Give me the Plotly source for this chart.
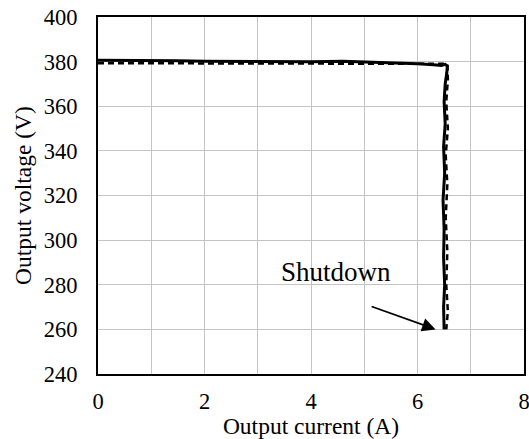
import plotly.graph_objects as go

# Measured output characteristic (solid) and simulated/reference curve (dashed)
current_meas = [0.0, 0.5, 1.0, 1.5, 2.0, 2.5, 3.0, 3.5, 4.0, 4.6, 5.0, 5.5, 6.0, 6.3, 6.45, 6.52,
                6.56, 6.55, 6.52, 6.50, 6.52, 6.49, 6.51, 6.48, 6.50, 6.49, 6.51, 6.49, 6.50, 6.50]
voltage_meas = [380.6, 380.6, 380.5, 380.4, 380.2, 380.1, 380.0, 380.0, 380.0, 380.2, 379.9, 379.6,
                379.0, 378.6, 378.3, 378.8, 378.0, 375.0, 370.0, 362.0, 352.0, 342.0, 330.0, 318.0,
                305.0, 292.0, 280.0, 270.0, 264.0, 260.0]

current_ref = [0.0, 1.0, 2.0, 3.0, 4.0, 5.0, 6.0, 6.4, 6.56, 6.57, 6.54, 6.57, 6.53, 6.56, 6.53,
               6.56, 6.54, 6.57, 6.54]
voltage_ref = [379.3, 379.3, 379.2, 379.2, 379.3, 379.3, 379.3, 379.3, 379.0, 372.0, 362.0, 350.0,
               338.0, 325.0, 310.0, 295.0, 280.0, 268.0, 260.0]

x_ticks = [0, 2, 4, 6, 8]
y_ticks = [240, 260, 280, 300, 320, 340, 360, 380, 400]

FONT = "Liberation Serif"

fig = go.Figure()
fig.add_trace(go.Scatter(x=current_ref, y=voltage_ref, mode="lines",
                         line=dict(color="black", width=2.5, dash="6px,4px"),
                         showlegend=False, hoverinfo="skip", cliponaxis=False))
fig.add_trace(go.Scatter(x=current_meas, y=voltage_meas, mode="lines",
                         line=dict(color="black", width=3),
                         showlegend=False, hoverinfo="skip"))

fig.add_annotation(x=6.34, y=260, ax=5.11, ay=270.5, xref="x", yref="y", axref="x", ayref="y",
                   text="", showarrow=True, arrowhead=2, arrowsize=1.5, arrowwidth=1.8,
                   arrowcolor="black")
fig.add_annotation(x=4.47, y=285.5, xref="x", yref="y", text="Shutdown", showarrow=False,
                   font=dict(family=FONT, size=27, color="black"))

fig.update_layout(
    width=529, height=439,
    margin=dict(l=98, r=5, t=17, b=65, autoexpand=False),
    paper_bgcolor="white", plot_bgcolor="white",
    font=dict(family=FONT, size=22.5, color="black"),
)
fig.update_xaxes(range=[0, 8], tickvals=x_ticks, ticks="", ticklabelstandoff=6,
                 automargin=False, ticklabeloverflow="allow",
                 showgrid=True, gridcolor="#c4c4c4", gridwidth=1,
                 minor=dict(dtick=1, showgrid=True, gridcolor="#c4c4c4", gridwidth=1),
                 showline=True, linecolor="black", linewidth=2, mirror=True,
                 zeroline=False,
                 title=dict(text="Output current (A)", font=dict(size=23.5), standoff=6))
fig.update_yaxes(range=[240, 400], tickvals=y_ticks, ticks="", ticklabelstandoff=14,
                 automargin=False,
                 showgrid=True, gridcolor="#c4c4c4", gridwidth=1,
                 showline=True, linecolor="black", linewidth=2, mirror=True,
                 zeroline=False,
                 title=dict(text="Output voltage (V)", font=dict(size=23.5), standoff=6))

fig.write_html("out.html")
